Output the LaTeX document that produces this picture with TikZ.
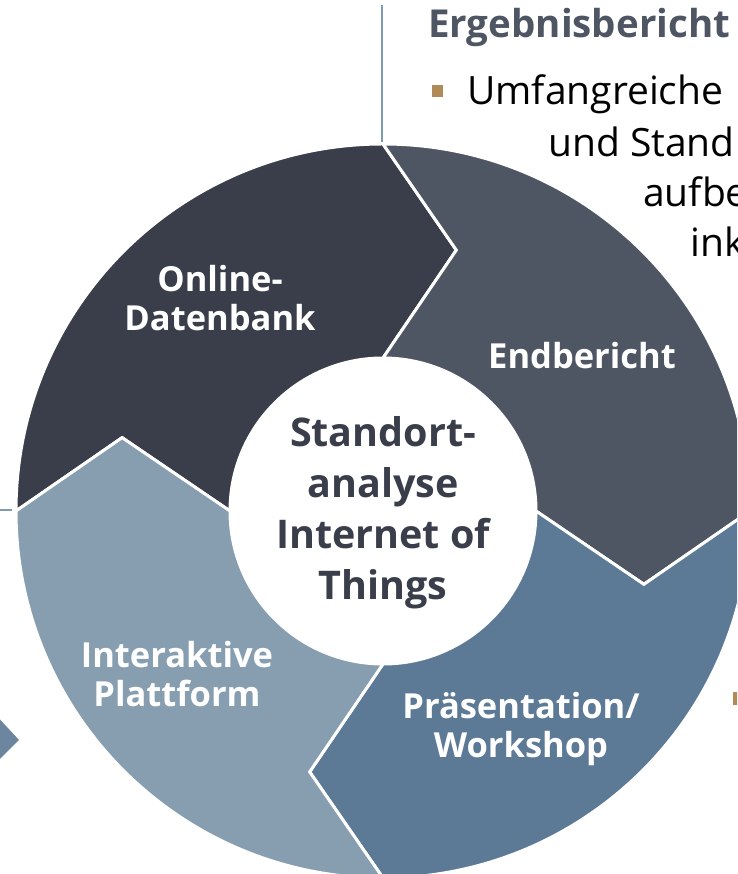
\documentclass[tikz,border=0pt]{standalone}
\usepackage{fontspec}
\setmainfont{Open Sans}

\definecolor{segdunkel}{HTML}{3A3E4B}
\definecolor{segschiefer}{HTML}{4F5663}
\definecolor{segblau}{HTML}{5C7996}
\definecolor{seghell}{HTML}{869EB0}
\definecolor{linienblau}{HTML}{7F9AB3}
\definecolor{punktgold}{HTML}{B08B57}

\begin{document}
\begin{tikzpicture}[
  x=1pt, y=1pt,
  segment/.style={draw=white, line width=3pt, line join=miter},
  seglabel/.style={
    text=white,
    font=\bfseries\fontsize{34.5}{39}\selectfont,
    align=center,
    inner sep=0pt,
  },
  kernlabel/.style={
    text=segdunkel,
    font=\bfseries\fontsize{39.5}{51}\selectfont,
    align=center,
    inner sep=0pt,
  },
  fliesstext/.style={
    anchor=base west,
    inner sep=0pt,
    font=\fontsize{39}{50}\selectfont,
  },
  randlinie/.style={draw=linienblau, line width=1.5pt},
  ]
  \useasboundingbox (0,0) rectangle (737,874);
  \clip (0,0) rectangle (737,874);

  \coordinate (mitte) at (383,363);
  \begin{scope}[shift={(mitte)}]
    \filldraw[segment, fill=segdunkel]
      (180:367) arc[start angle=180, end angle=90, radius=367]
      -- (74.3:271) -- (90:153) arc[start angle=90, end angle=180, radius=153]
      -- (164.3:271) -- cycle;
    \filldraw[segment, fill=segschiefer]
      (90:367) arc[start angle=90, end angle=0, radius=367]
      -- (-15.7:271) -- (0:153) arc[start angle=0, end angle=90, radius=153]
      -- (74.3:271) -- cycle;
    \filldraw[segment, fill=segblau]
      (0:367) arc[start angle=0, end angle=-90, radius=367]
      -- (-105.7:271) -- (-90:153) arc[start angle=-90, end angle=0, radius=153]
      -- (-15.7:271) -- cycle;
    \filldraw[segment, fill=seghell]
      (-90:367) arc[start angle=-90, end angle=-180, radius=367]
      -- (164.3:271) -- (180:153) arc[start angle=180, end angle=270, radius=153]
      -- (-105.7:271) -- cycle;
    \fill[white] (0,0) circle[radius=153];
  \end{scope}

  \node[kernlabel] (kern) at (383,361) {Standort-\\analyse\\Internet of\\Things};
  \node[seglabel] (datenbank) at (220,576) {Online-\\Datenbank};
  \node[seglabel] (endbericht) at (582,518) {Endbericht};
  \node[seglabel] (praesentation) at (521,145) {Präsentation/\\Workshop};
  \node[seglabel] (plattform) at (177,200) {Interaktive\\Plattform};

  \coordinate (oben) at (382,869);
  \coordinate (kreisoben) at (382,732);
  \draw[randlinie] (oben) -- (kreisoben);
  \coordinate (linksrand) at (0,364);
  \coordinate (kreislinks) at (12,364);
  \draw[randlinie] (linksrand) -- (kreislinks);

  \fill[segblau!90!white] (-6,161) -- (19,134) -- (-6,109) -- cycle;

  \node[fliesstext, text=segschiefer, font=\bfseries\fontsize{38.5}{44}\selectfont]
    (ergebnis) at (428,836) {Ergebnisbericht};
  \fill[punktgold] (432,777) rectangle (443,789);
  \node[fliesstext] (zeileeins) at (467,769) {Umfangreiche};
  \node[fliesstext] (zeilezwei) at (548,717) {und Stand};
  \node[fliesstext] (zeiledrei) at (643,667) {aufbe};
  \node[fliesstext] (zeilevier) at (690,617) {ink};
  \fill[punktgold] (733,169) rectangle (743,182);
\end{tikzpicture}
\end{document}
